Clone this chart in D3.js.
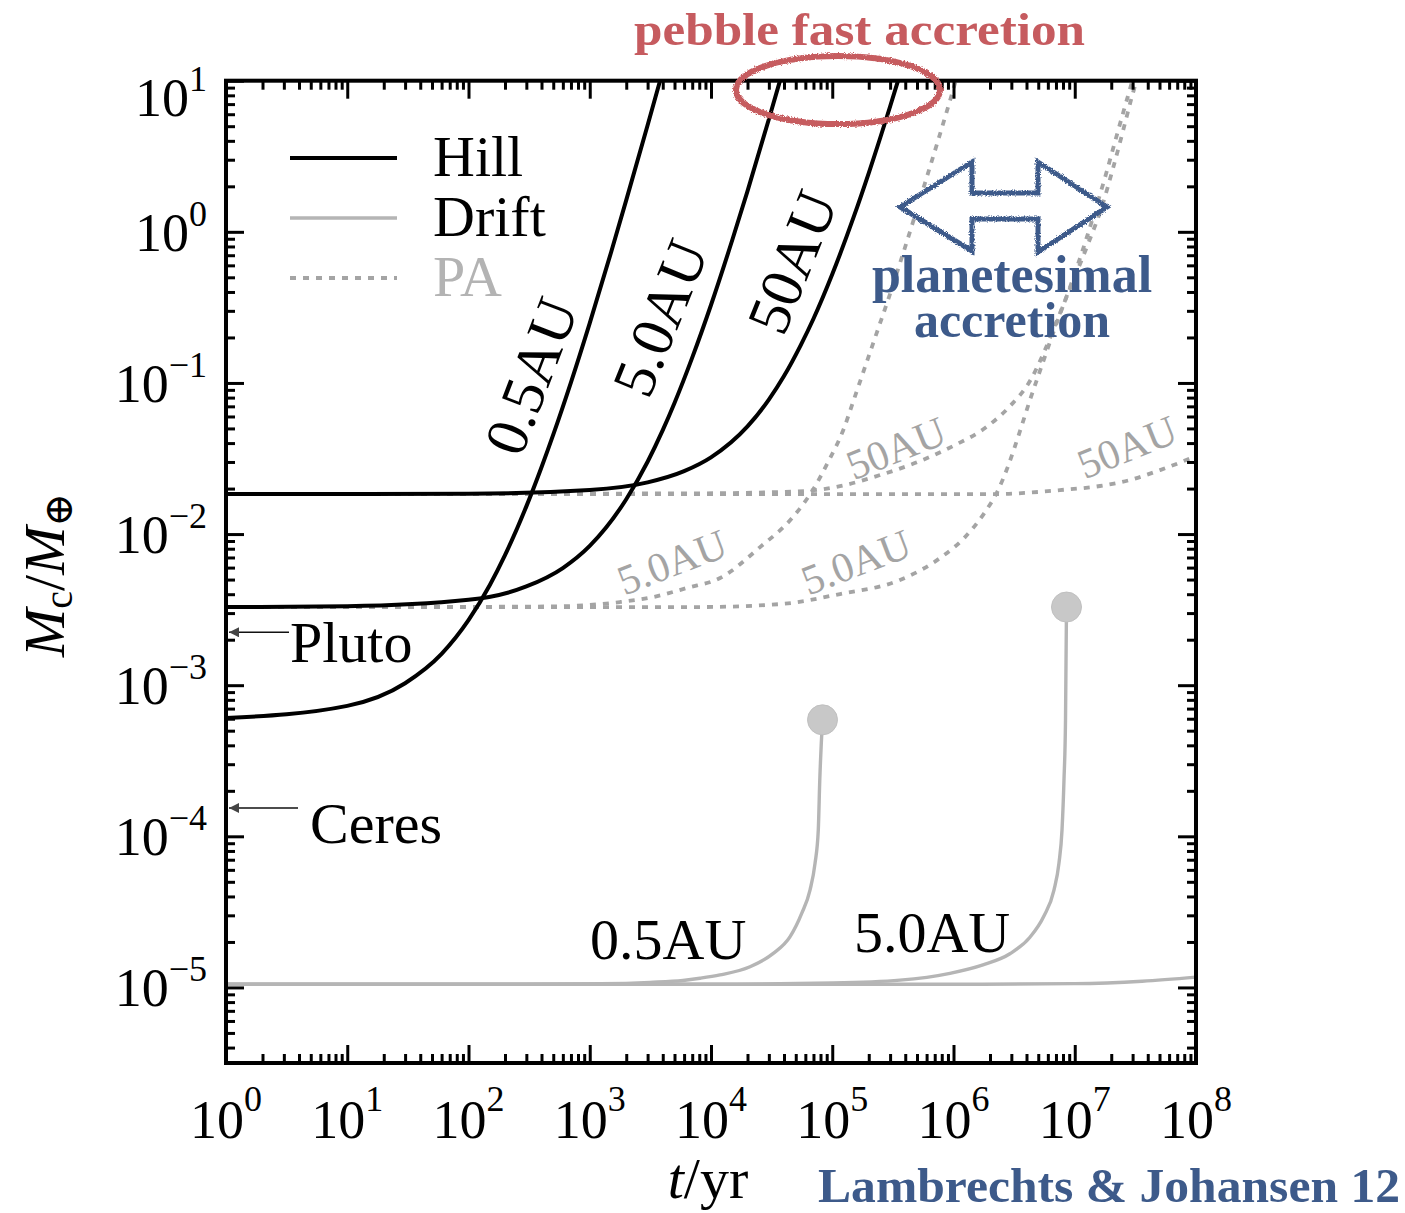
<!DOCTYPE html>
<html><head><meta charset="utf-8">
<script src="https://cdn.jsdelivr.net/npm/d3@7"></script>
<style>
html,body{margin:0;padding:0;background:#fff;}
svg{display:block;}
text{font-family:"Liberation Serif","Times New Roman",Times,serif;}
</style></head><body>
<svg id="chart" width="1405" height="1213"></svg>
<script>
// ---------------- data ----------------
const xTickExponents = [0,1,2,3,4,5,6,7,8];
const yTickExponents = [1,0,-1,-2,-3,-4,-5];
const legendLabels = ["Hill","Drift","PA"];
const locationLabels = ["0.5AU","5.0AU","50AU"];

// Hill accretion (black) [t/yr, Mc/Mearth]
const hill05 = [[1,6.06e-4],[10,7.30e-4],[30,1.03e-3],[60,1.61e-3],[100,2.69e-3],[150,4.6e-3],[200,7.25e-3],[300,1.525e-2],[400,2.77e-2],[500,4.55e-2],[700,0.101],[1000,0.249],[1500,0.733],[2000,1.62],[3000,5.07],[3800,10.0],[4500,16.4]];
const hill5 = [[1,3.29e-3],[10,3.33e-3],[100,3.67e-3],[300,4.50e-3],[600,5.96e-3],[1000,8.35e-3],[2000,1.70e-2],[3000,3.01e-2],[4000,4.87e-2],[5000,7.37e-2],[7000,0.147],[10000,0.328],[15000,0.886],[20000,1.86],[30000,5.56],[37000,9.95],[45000,17.2]];
const hill50 = [[1,1.84e-2],[100,1.85e-2],[1000,1.96e-2],[3000,2.20e-2],[6000,2.61e-2],[10000,3.22e-2],[20000,5.16e-2],[30000,7.76e-2],[40000,0.111],[55000,0.178],[70000,0.266],[100000,0.524],[150000,1.25],[200000,2.45],[300000,6.75],[350000,10.1],[420000,16.4]];

// Drift accretion (grey)
const drift05 = [[1,1.05e-5],[300,1.05e-5],[1215,1.058e-5],[3140,1.081e-5],[5875,1.112e-5],[8110,1.15e-5],[11860,1.21e-5],[20990,1.37e-5],[32630,1.68e-5],[44770,2.16e-5],[55980,3.09e-5],[65550,4.41e-5],[72100,6.62e-5],[76700,1.10e-4],[78900,2.35e-4],[83100,5.9e-4]];
const drift5 = [[1,1.05e-5],[1e4,1.05e-5],[101500,1.07e-5],[362000,1.117e-5],[935000,1.24e-5],[1.75e6,1.41e-5],[2.92e6,1.67e-5],[4.27e6,2.15e-5],[5.57e6,2.97e-5],[6.74e6,4.41e-5],[7.41e6,6.65e-5],[7.85e6,1.10e-4],[8.15e6,2.35e-4],[8.39e6,5.87e-4],[8.55e6,3.29e-3]];
const drift50 = [[1,1.05e-5],[1e6,1.05e-5],[1e7,1.06e-5],[3.6e7,1.10e-5],[1e8,1.17e-5]];
const driftEnds = [[83100,5.9e-4],[8.55e6,3.29e-3]];

// Planetesimal accretion (dotted grey)
const pa5early = [[1,3.29e-3],[100,3.30e-3],[500,3.32e-3],[1775,3.55e-3],[3330,3.83e-3],[6340,4.40e-3],[11900,5.12e-3],[25400,8.20e-3],[46600,1.276e-2],[68100,1.92e-2],[92300,2.99e-2],[125000,5.02e-2],[148300,7.47e-2],[186300,0.1274],[233900,0.2172],[293800,0.3703],[369000,0.651],[463400,1.161],[582100,2.104],[731000,3.813],[918200,7.014],[1.029e6,9.58],[1.089e6,11.2]];
const pa50early = [[1,1.84e-2],[8110,1.86e-2],[58500,1.926e-2],[115800,2.075e-2],[247700,2.457e-2],[529700,3.04e-2],[1.028e6,3.88e-2],[1.82e6,5.03e-2],[2.925e6,7.03e-2],[4.27e6,0.1029],[5.578e6,0.160],[7.276e6,0.269],[9.674e6,0.472],[1.286e7,0.830],[1.68e7,1.48],[2.07e7,2.64],[2.50e7,4.65],[2.91e7,7.45],[3.20e7,9.8],[3.39e7,11.8]];
const pa5late = [[1,3.29e-3],[8110,3.29e-3],[37100,3.44e-3],[115800,4.01e-3],[362000,4.97e-3],[774000,6.94e-3],[1.245e6,9.55e-3],[1.82e6,1.40e-2],[2.33e6,1.95e-2],[2.82e6,2.82e-2],[3.47e6,4.59e-2],[4.27e6,7.70e-2],[5.37e6,0.1314],[7.00e6,0.2416],[9.14e6,0.431],[1.17e7,0.769],[1.469e7,1.373],[1.81e7,2.41],[2.19e7,4.18],[2.60e7,6.80],[2.96e7,9.8],[3.14e7,11.8]];
const pa50late = [[1,1.84e-2],[2.42e6,1.84e-2],[4.27e6,1.882e-2],[7.55e6,1.954e-2],[1.615e7,2.08e-2],[2.86e7,2.28e-2],[5.05e7,2.65e-2],[1e8,3.28e-2]];

// reference bodies
const bodies = [["Pluto",2.24e-3],["Ceres",1.54e-4]];

// ---------------- drawing ----------------
const svg = d3.select('#chart');
const L=226, R=1196, T=80.7, B=1063;
const x = d3.scaleLog().domain([1,1e8]).range([L,R]);
const y = d3.scaleLog().domain([Math.pow(10,-5.5),10]).range([B,T]);

const defs = svg.append('defs');
defs.append('clipPath').attr('id','plotclip').append('rect')
  .attr('x',L).attr('y',T).attr('width',R-L).attr('height',B-T);
const rough = defs.append('filter').attr('id','rough').attr('x','-10%').attr('y','-30%').attr('width','120%').attr('height','160%');
rough.append('feTurbulence').attr('type','fractalNoise').attr('baseFrequency',0.9).attr('numOctaves',2).attr('seed',3).attr('result','noise');
rough.append('feDisplacementMap').attr('in','SourceGraphic').attr('in2','noise').attr('scale',4).attr('xChannelSelector','R').attr('yChannelSelector','G');

const line = d3.line().x(d=>x(d[0])).y(d=>y(d[1])).curve(d3.curveMonotoneX);
const plot = svg.append('g').attr('clip-path','url(#plotclip)');

const paColor = '#a4a4a4', driftColor = '#b5b5b5';
// PA curves
[pa5early, pa50early, pa5late, pa50late].forEach(s=>{
  plot.append('path').datum(s).attr('d',line).attr('fill','none')
    .attr('stroke',paColor).attr('stroke-width',3.8).attr('stroke-dasharray','6 7');
});
// Drift curves
[drift05, drift5, drift50].forEach(s=>{
  plot.append('path').datum(s).attr('d',line).attr('fill','none')
    .attr('stroke',driftColor).attr('stroke-width',3.4);
});
plot.selectAll('circle.end').data(driftEnds).enter().append('circle')
  .attr('cx',d=>x(d[0])).attr('cy',d=>y(d[1])).attr('r',15)
  .attr('fill','#c8c8c8').attr('stroke','#c0c0c0').attr('stroke-width',1);
// Hill curves
[hill05, hill5, hill50].forEach(s=>{
  plot.append('path').datum(s).attr('d',line).attr('fill','none')
    .attr('stroke','#000').attr('stroke-width',4);
});

// curve labels (anchored in data coordinates)
function rotLabel(t, m, txt, angle, size, color){
  svg.append('text').attr('transform',`translate(${x(t)},${y(m)}) rotate(${angle})`)
    .attr('text-anchor','middle').attr('dy','0.34em')
    .attr('font-size',size).attr('fill',color).text(txt);
}
rotLabel(327, 0.111, locationLabels[0], -69, 60, '#000');
rotLabel(3800, 0.269, locationLabels[1], -68, 60, '#000');
rotLabel(46600, 0.631, locationLabels[2], -68, 60, '#000');
rotLabel(4770, 6.53e-3, locationLabels[1], -21, 42, '#a4a4a4');
rotLabel(157000, 6.53e-3, locationLabels[1], -21, 42, '#a4a4a4');
rotLabel(336000, 3.71e-2, locationLabels[2], -22, 42, '#a4a4a4');
rotLabel(2.70e7, 3.77e-2, locationLabels[2], -22, 42, '#a4a4a4');
svg.append('text').attr('x',x(1005)).attr('y',y(1.54e-5)).attr('font-size',58).text(locationLabels[0]);
svg.append('text').attr('x',x(151000)).attr('y',y(1.71e-5)).attr('font-size',58).text(locationLabels[1]);

// Pluto / Ceres arrows
defs.append('marker').attr('id','ah').attr('viewBox','0 0 10 10').attr('refX',10).attr('refY',5)
  .attr('markerWidth',12).attr('markerHeight',10).attr('markerUnits','userSpaceOnUse').attr('orient','auto')
  .append('path').attr('d','M0,0 L10,5 L0,10 z').attr('fill','#444');
bodies.forEach((b,i)=>{
  const yy = y(b[1]);
  const x1 = i===0 ? 289 : 298;
  svg.append('line').attr('x1',x1).attr('x2',L+3).attr('y1',yy).attr('y2',yy)
    .attr('stroke','#111').attr('stroke-width',1.5).attr('marker-end','url(#ah)');
  svg.append('text').attr('x', i===0 ? 290 : 310).attr('y', yy + (i===0?30:35))
    .attr('font-size',58).text(b[0]);
});

// ---------------- axes ----------------
const minorX = [], minorY = [];
xTickExponents.slice(0,-1).forEach(e=>{ for(let m=2;m<10;m++) minorX.push(m*Math.pow(10,e)); });
for(let e=-6;e<1;e++){ for(let m=2;m<10;m++){ const v=m*Math.pow(10,e); if(v>=y.domain()[0] && v<=10) minorY.push(v);} }
const majorX = xTickExponents.map(e=>Math.pow(10,e));
const majorY = yTickExponents.map(e=>Math.pow(10,e));

function styleAxis(g){ g.select('.domain').remove(); g.selectAll('text').remove(); g.selectAll('line').attr('stroke','#000').attr('stroke-width',3); }
const axes = [
  [d3.axisBottom, x, `translate(0,${B})`, majorX, minorX],
  [d3.axisTop, x, `translate(0,${T})`, majorX, minorX],
  [d3.axisLeft, y, `translate(${L},0)`, majorY, minorY],
  [d3.axisRight, y, `translate(${R},0)`, majorY, minorY]
];
axes.forEach(([fn, sc, tr, maj, min])=>{
  svg.append('g').attr('transform',tr).call(fn(sc).tickValues(maj).tickSize(-18).tickSizeOuter(0).tickFormat('')).call(styleAxis);
  svg.append('g').attr('transform',tr).call(fn(sc).tickValues(min).tickSize(-9).tickSizeOuter(0).tickFormat('')).call(styleAxis);
});
svg.append('rect').attr('x',L).attr('y',T).attr('width',R-L).attr('height',B-T)
  .attr('fill','none').attr('stroke','#000').attr('stroke-width',4);

// tick labels
const fmtExp = e => e<0 ? '\u2212'+(-e) : String(e);
xTickExponents.forEach(e=>{
  const t = svg.append('text').attr('x',x(Math.pow(10,e))).attr('y',1138)
    .attr('text-anchor','middle').attr('font-size',54);
  t.append('tspan').text('10');
  t.append('tspan').attr('dy',-27).attr('font-size',36).text(fmtExp(e));
});
yTickExponents.forEach(e=>{
  const t = svg.append('text').attr('x',207).attr('y',Math.max(y(Math.pow(10,e))+19,116))
    .attr('text-anchor','end').attr('font-size',54);
  t.append('tspan').text('10');
  t.append('tspan').attr('dy',-25).attr('font-size',36).text(fmtExp(e));
});

// axis titles
const xt = svg.append('text').attr('x',708).attr('y',1198).attr('text-anchor','middle').attr('font-size',58);
xt.append('tspan').attr('font-style','italic').text('t');
xt.append('tspan').text('/yr');
const yt = svg.append('text').attr('transform','translate(64,575) rotate(-90)').attr('text-anchor','middle').attr('font-size',58);
yt.append('tspan').attr('font-style','italic').text('M');
yt.append('tspan').attr('font-size',40).attr('dy',8).text('c');
yt.append('tspan').attr('dy',-8).text('/');
yt.append('tspan').attr('font-style','italic').text('M');
yt.append('tspan').attr('font-size',40).attr('dy',8).attr('font-family','DejaVu Serif, serif').text('\u2295');

// legend
const legStyles = [
  {stroke:'#000', w:4, dash:null, text:'#000'},
  {stroke:driftColor, w:3.4, dash:null, text:'#000'},
  {stroke:paColor, w:3.8, dash:'6 7', text:'#b3b3b3'}
];
legendLabels.forEach((lab,i)=>{
  const ly = 158 + i*60;
  svg.append('line').attr('x1',290).attr('x2',397).attr('y1',ly).attr('y2',ly)
    .attr('stroke',legStyles[i].stroke).attr('stroke-width',legStyles[i].w)
    .attr('stroke-dasharray',legStyles[i].dash);
  svg.append('text').attr('x',433).attr('y',ly+18).attr('font-size',58)
    .attr('fill',legStyles[i].text).text(lab);
});

// annotations
const red = '#c65b5f', blue = '#3d5a8a';
svg.append('ellipse').attr('cx',838).attr('cy',90).attr('rx',102).attr('ry',34)
  .attr('fill','none').attr('stroke',red).attr('stroke-width',6).attr('filter','url(#rough)');
svg.append('text').attr('x',634).attr('y',45).attr('font-size',47).attr('font-weight','bold')
  .attr('fill',red).attr('textLength',451).attr('lengthAdjust','spacingAndGlyphs').text('pebble fast accretion');
svg.append('path')
  .attr('d','M900,207 L972,162 L972,193 L1038,193 L1038,162 L1107,207 L1038,252 L1038,219 L972,219 L972,251 Z')
  .attr('fill','#fff').attr('stroke',blue).attr('stroke-width',5).attr('stroke-linejoin','miter')
  .attr('filter','url(#rough)');
const pl = svg.append('text').attr('x',1012).attr('y',292).attr('text-anchor','middle')
  .attr('font-weight','bold').attr('fill',blue);
pl.append('tspan').attr('x',1012).attr('font-size',52).text('planetesimal');
pl.append('tspan').attr('x',1012).attr('dy',45).attr('font-size',50).text('accretion');
svg.append('text').attr('x',818).attr('y',1202).attr('font-size',48).attr('font-weight','bold')
  .attr('fill',blue).attr('textLength',582).attr('lengthAdjust','spacingAndGlyphs').text('Lambrechts & Johansen 12');
</script>
</body></html>
